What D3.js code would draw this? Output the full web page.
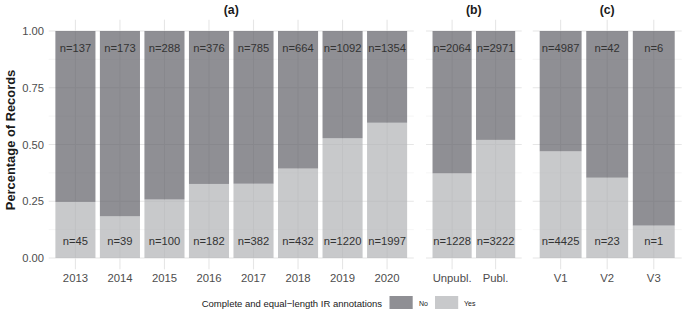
<!DOCTYPE html>
<html><head><meta charset="utf-8">
<script src="https://cdn.jsdelivr.net/npm/d3@7"></script>
<style>
html,body{margin:0;padding:0;background:#fff;}
svg{display:block;font-family:"Liberation Sans",Arial,Helvetica,sans-serif;}
</style></head>
<body>
<svg id="chart" width="685" height="309"></svg>
<script>
// ---- data ----
const yearCats = ["2013","2014","2015","2016","2017","2018","2019","2020"];
const yearNo  = [137,173,288,376,785,664,1092,1354];
const yearYes = [45,39,100,182,382,432,1220,1997];

const pubCats = ["Unpubl.","Publ."];
const pubNo  = [2064,2971];
const pubYes = [1228,3222];

const verCats = ["V1","V2","V3"];
const verNo  = [4987,42,6];
const verYes = [4425,23,1];

const panelTitles = ["(a)","(b)","(c)"];
const yTicks = [0,0.25,0.5,0.75,1];
const yMinor = [0.125,0.375,0.625,0.875];
const legendTitle = "Complete and equal\u2212length IR annotations";
const legendKeys = ["No","Yes"];

// ---- layout ----
const svg = d3.select("#chart");
const colors = {No:"#5f6066", Yes:"#b0b2b5"};
const barOpacity = 0.7;
const y = d3.scaleLinear().domain([0,1]).range([258,31]);
const panelTop = y(1.05), panelBot = y(-0.05);

const panels = [
  {cats:yearCats, no:yearNo, yes:yearYes, x0:48.7, x1:413.8, title:panelTitles[0]},
  {cats:pubCats,  no:pubNo,  yes:pubYes,  x0:426,  x1:521.7, title:panelTitles[1]},
  {cats:verCats,  no:verNo,  yes:verYes,  x0:532.7,x1:681.7, title:panelTitles[2]}
];

const stack = d3.stack().keys(["Yes","No"]).offset(d3.stackOffsetExpand);

panels.forEach(p => {
  const rows = p.cats.map((c,i)=>({cat:c, No:p.no[i], Yes:p.yes[i]}));
  const x = d3.scaleBand().domain(p.cats).range([p.x0,p.x1]).paddingInner(0.1).paddingOuter(0.15);
  const g = svg.append("g");
  // grid
  g.selectAll(".minor").data(yMinor).join("line")
    .attr("x1",p.x0).attr("x2",p.x1).attr("y1",d=>y(d)).attr("y2",d=>y(d))
    .attr("stroke","#f0f0f0").attr("stroke-width",0.6);
  g.selectAll(".major").data(yTicks).join("line")
    .attr("x1",p.x0).attr("x2",p.x1).attr("y1",d=>y(d)).attr("y2",d=>y(d))
    .attr("stroke","#e6e6e6").attr("stroke-width",1.1);
  g.selectAll(".vg").data(p.cats).join("line")
    .attr("x1",d=>x(d)+x.bandwidth()/2).attr("x2",d=>x(d)+x.bandwidth()/2)
    .attr("y1",panelTop).attr("y2",panelBot)
    .attr("stroke","#e6e6e6").attr("stroke-width",1.1);
  // bars
  const series = stack(rows);
  series.forEach(s => {
    g.append("g").selectAll("rect").data(s).join("rect")
      .attr("x",d=>x(d.data.cat)).attr("width",x.bandwidth())
      .attr("y",d=>y(d[1])).attr("height",d=>y(d[0])-y(d[1]))
      .attr("fill",colors[s.key]).attr("fill-opacity",barOpacity);
  });
  // n labels
  g.selectAll(".nt").data(rows).join("text")
    .attr("x",d=>x(d.cat)+x.bandwidth()/2).attr("y",y(0.925))
    .attr("text-anchor","middle").attr("dominant-baseline","central")
    .attr("font-size",11.2).attr("fill","#333")
    .text(d=>"n="+d.No);
  g.selectAll(".nb").data(rows).join("text")
    .attr("x",d=>x(d.cat)+x.bandwidth()/2).attr("y",y(0.075))
    .attr("text-anchor","middle").attr("dominant-baseline","central")
    .attr("font-size",11.2).attr("fill","#333")
    .text(d=>"n="+d.Yes);
  // x axis labels
  const ax = d3.axisBottom(x).tickSize(0).tickPadding(0);
  const axg = g.append("g").attr("transform",`translate(0,${panelBot})`).call(ax);
  axg.select(".domain").remove();
  axg.selectAll("text").attr("font-size",11.3).attr("fill","#4d4d4d")
    .attr("font-family",null).attr("y",4.6).attr("dy","0.71em");
  // panel title
  g.append("text").attr("x",(p.x0+p.x1)/2).attr("y",10)
    .attr("text-anchor","middle").attr("dominant-baseline","central")
    .attr("font-size",12.3).attr("font-weight","bold").attr("fill","#1a1a1a")
    .text(p.title);
});

// y axis
const yax = d3.axisLeft(y).tickValues(yTicks).tickFormat(d3.format(".2f")).tickSize(0).tickPadding(0);
const yg = svg.append("g").attr("transform","translate(44,0)").call(yax);
yg.select(".domain").remove();
yg.selectAll("text").attr("font-size",11.2).attr("fill","#4d4d4d").attr("font-family",null);

svg.append("text").attr("transform","translate(10,140) rotate(-90)")
  .attr("text-anchor","middle").attr("dominant-baseline","central")
  .attr("font-size",12.9).attr("font-weight","bold").attr("fill","#1a1a1a")
  .text("Percentage of Records");

// legend
const lg = svg.append("g");
lg.append("text").attr("x",201.7).attr("y",303).attr("dominant-baseline","central")
  .attr("font-size",9.5).attr("fill","#1a1a1a").text(legendTitle);
const keyX = [389.5, 435];
const labX = [419, 464];
legendKeys.forEach((k,i)=>{
  lg.append("rect").attr("x",keyX[i]).attr("y",296).attr("width",23.2).attr("height",17)
    .attr("fill",colors[k]).attr("fill-opacity",barOpacity);
  lg.append("text").attr("x",labX[i]).attr("y",303).attr("dominant-baseline","central")
    .attr("font-size",7).attr("fill","#1a1a1a").text(k);
});
</script>
</body></html>
